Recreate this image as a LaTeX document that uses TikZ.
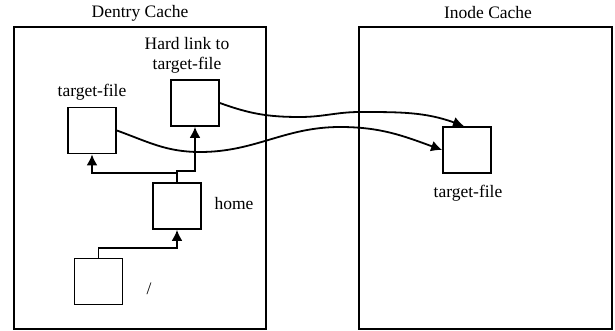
\documentclass[tikz,border=0pt]{standalone}
\usepackage{fontspec}
\setmainfont{Liberation Serif}
\usetikzlibrary{arrows.meta}
\begin{document}
\begin{tikzpicture}[x=1pt,y=-1pt,
  font=\fontsize{17.5}{20}\selectfont,
  cache/.style={draw,line width=1.8pt,inner sep=0pt},
  entry/.style={draw,line width=1.8pt,inner sep=0pt,minimum width=48pt,minimum height=46pt},
  lbl/.style={inner sep=0pt,align=center},
  arr/.style={line width=1.8pt,-{Latex[length=11pt,width=11pt]}},
  link/.style={line width=1.8pt,-{Latex[length=11pt,width=11pt]}}]
\useasboundingbox (0,0) rectangle (615,331);

% the two caches
\node[cache,minimum width=252pt,minimum height=302pt] (dcache) at (140,178) {};
\node[cache,minimum width=253pt,minimum height=302pt] (icache) at (485.5,178) {};
\node[lbl] (dtitle) at (140,13) {Dentry Cache};
\node[lbl] (ititle) at (488,13) {Inode Cache};

% dentry entries
\node[entry] (hl)   at (195,103) {};
\node[entry] (tf)   at (92,130.5) {};
\node[entry] (home) at (177,206) {};
\node[entry] (root) at (98.5,281.5) {};

% inode entry
\node[entry] (itf) at (467,150) {};

% labels
\node[lbl] (hllbl) at (187,55) {Hard link to\\target-file};
\node[lbl] (tflbl) at (92,92) {target-file};
\node[lbl] (homelbl) at (234,204) {home};
\node[lbl] (rootlbl) at (149,289) {/};
\node[lbl] (itflbl) at (468,193) {target-file};

% directory tree
\draw[arr] (root.north) -- ++(0,-10) -| (home.south);
\draw[arr] (home.north) -- ++(0,-11) -| (hl.south);
\draw[arr] (home.north) -- ++(0,-9) -| (tf.south);

% dentries pointing to the shared inode
\coordinate (itftop) at ([xshift=-3pt]itf.north);
\draw[link] (hl.east) to[out=-20,in=180] (300,117) to[out=0,in=180] (360,112) to[out=0,in=160] (itftop);
\draw[link] (tf.east) to[out=-20,in=180] (200,152) to[out=0,in=180] (340,127) to[out=0,in=160] (itf.west);
\end{tikzpicture}
\end{document}
